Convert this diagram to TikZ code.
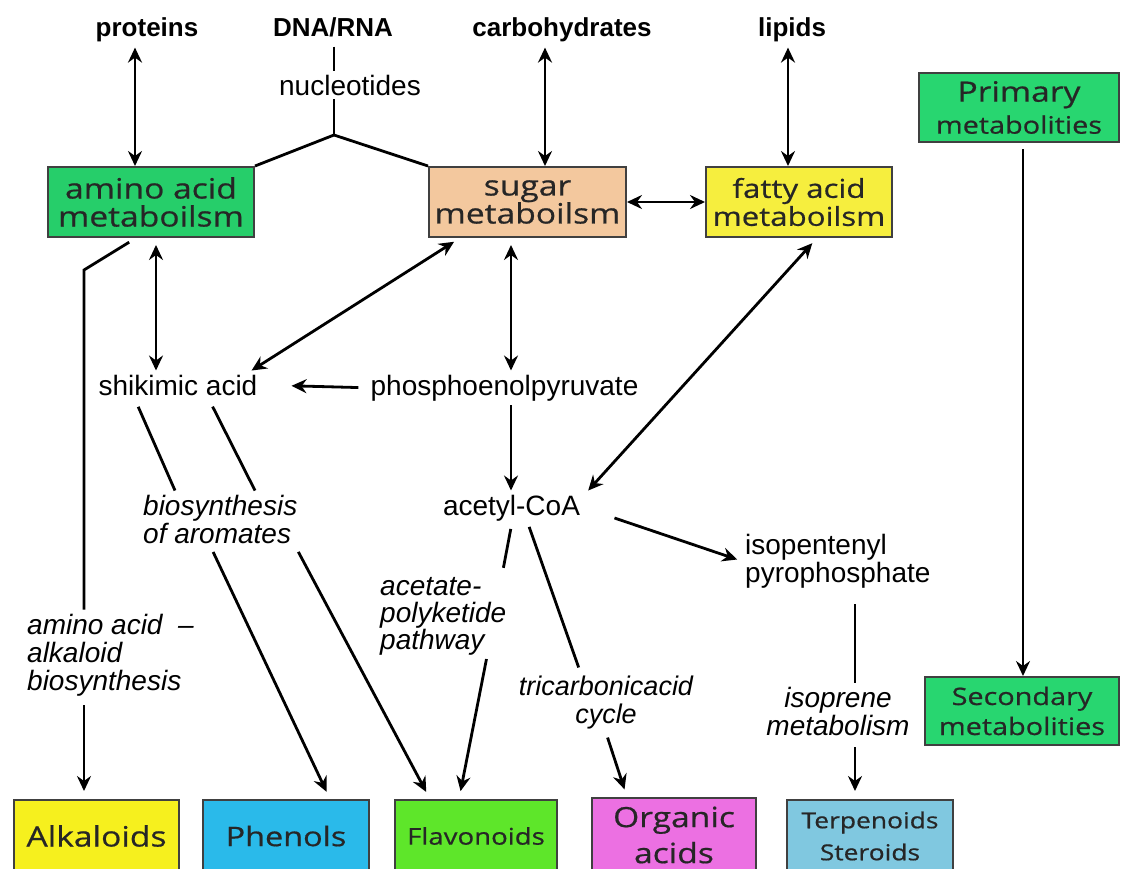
\documentclass[tikz,border=0pt]{standalone}
\usepackage{fontspec}
\setmainfont{Liberation Sans}
\newfontfamily\boxfont[FakeStretch=1.2, FakeBold=0.6]{Open Sans}
\usepackage{xcolor}
\usepackage{tikz}
\usetikzlibrary{arrows.meta, positioning, calc}

\definecolor{aminogreen}{RGB}{38,206,106}
\definecolor{primgreen}{RGB}{40,214,112}
\definecolor{sugarpeach}{RGB}{243,200,158}
\definecolor{fattyyellow}{RGB}{246,238,62}
\definecolor{alkyellow}{RGB}{246,240,30}
\definecolor{phencyan}{RGB}{42,186,234}
\definecolor{flavgreen}{RGB}{94,230,42}
\definecolor{orgpink}{RGB}{236,112,226}
\definecolor{terpblue}{RGB}{128,200,224}

\begin{document}
\begin{tikzpicture}[
    x=1pt, y=-1pt,
    lbl/.style={inner sep=4pt, align=center, text=black, font=\fontsize{28}{28}\selectfont},
    toplbl/.style={lbl, font=\bfseries\fontsize{26}{28}\selectfont},
    route/.style={lbl, align=left, font=\itshape\fontsize{28}{28}\selectfont},
    box/.style={draw=black!75, line width=2pt, inner sep=0pt, align=center, text=black!85, font=\boxfont\fontsize{28}{28}\selectfont},
    arrow/.style={-{Stealth[length=15pt, width=14pt, inset=5pt]}, line width=2.8pt},
    dbl/.style={{Stealth[length=15pt, width=14pt, inset=5pt]}-{Stealth[length=15pt, width=14pt, inset=5pt]}, line width=2.8pt},
    link/.style={line width=2.8pt}
]

\clip (0,0) rectangle (1121,868);
\fill[white] (0,0) rectangle (1121,868);

% Row 1: precursors
\node[toplbl, anchor=base] (proteins) at (147,36) {proteins};
\node[toplbl, anchor=base] (dna) at (333,36) {DNA/RNA};
\node[toplbl, anchor=base] (carbs) at (562,36) {carbohydrates};
\node[toplbl, anchor=base] (lipids) at (792,36) {lipids};
\node[lbl, anchor=base] (nucleo) at (350,95) {nucleotides};

% Row 2: primary metabolism boxes
\node[box, fill=aminogreen, minimum width=206pt, minimum height=70pt] (amino) at (151,202) {amino acid\\metaboilsm};
\node[box, fill=sugarpeach, minimum width=197pt, minimum height=70pt] (sugar) at (527.5,202) {sugar\\metaboilsm};
\node[box, fill=fattyyellow, minimum width=186pt, minimum height=70pt, font=\boxfont\fontsize{26}{28}\selectfont] (fatty) at (799,202) {fatty acid\\metaboilsm};
\node[box, fill=primgreen, minimum width=200pt, minimum height=69pt] (primary) at (1019,107.5) {{\fontsize{28}{28}\selectfont Primary}\\[4pt]{\fontsize{24}{28}\selectfont metabolities}};
\node[box, fill=primgreen, minimum width=194pt, minimum height=68pt, font=\boxfont\fontsize{24}{30}\selectfont] (secondary) at (1022,711) {Secondary\\metabolities};

% Row 3: intermediates
\node[lbl, anchor=base] (shikimic) at (178,395) {shikimic acid};
\node[lbl, anchor=base] (pep) at (504.5,395) {phosphoenolpyruvate};
\node[lbl, anchor=base] (acetyl) at (511.5,515) {acetyl-CoA};
\node[lbl, anchor=base west, align=left] (ipp) at (741,582) {isopentenyl\\pyrophosphate};

% pathway labels (base = last line)
\node[route, anchor=base west] (aromat) at (139,543) {biosynthesis\\of aromates};
\node[route, anchor=base west] (alkpath) at (23,690) {amino acid\ \ \textendash\\alkaloid\\biosynthesis};
\node[route, anchor=base west, font=\itshape\fontsize{28}{27}\selectfont] (polyket) at (376,649) {acetate-\\polyketide\\pathway};
\node[route, anchor=base, align=center, font=\itshape\fontsize{27}{28}\selectfont] (tca) at (606,723) {tricarbonicacid\\cycle};
\node[route, anchor=base, align=center, font=\itshape\fontsize{28}{28}\selectfont] (isoprene) at (838,735) {isoprene\\metabolism};

% Row 4: secondary products
\node[box, fill=alkyellow, minimum width=165pt, minimum height=72pt] (alkaloids) at (96.5,836) {Alkaloids};
\node[box, fill=phencyan, minimum width=166pt, minimum height=72pt, font=\boxfont\fontsize{27}{28}\selectfont] (phenols) at (286,836) {Phenols};
\node[box, fill=flavgreen, minimum width=162pt, minimum height=72pt, font=\boxfont\fontsize{23}{28}\selectfont] (flavonoids) at (476,836) {Flavonoids};
\node[box, fill=orgpink, minimum width=164pt, minimum height=74pt, font=\boxfont\fontsize{28}{36}\selectfont] (organic) at (674,835) {Organic\\acids};
\node[box, fill=terpblue, minimum width=166pt, minimum height=72pt, font=\boxfont\fontsize{22}{32}\selectfont] (terpenes) at (870,836) {Terpenoids\\Steroids};

% columns of the straight connectors
\coordinate (protX) at (135,0);
\coordinate (carbX) at (545,0);
\coordinate (lipX) at (788,0);
\coordinate (dnaX) at (334,0);
\coordinate (branch) at (334,135);
\coordinate (metX) at (1023,0);
\coordinate (shikX) at (156,0);
\coordinate (pepX) at (511,0);
\coordinate (ippX) at (855,0);
\coordinate (alkbend) at (84,270);

% arrows, top part
\draw[dbl, shorten <=2pt] (proteins.south -| protX) -- (amino.north -| protX);
\draw[dbl, shorten <=2pt] (carbs.south -| carbX) -- (sugar.north -| carbX);
\draw[dbl, shorten <=2pt] (lipids.south -| lipX) -- (fatty.north -| lipX);
\draw[link, shorten <=6pt] (dna.south -| dnaX) -- (nucleo.north -| dnaX);
\draw[link] (nucleo.south -| dnaX) -- (branch);
\draw[link] (branch) -- (amino.north east);
\draw[link] (branch) -- (sugar.north west);
\draw[dbl] (sugar) -- (fatty);
\draw[arrow, line width=2.2pt, shorten <=6pt] (primary.south -| metX) -- (secondary.north -| metX);

% arrows, middle part
\draw[dbl, shorten <=7pt] (amino.south -| shikX) -- (shikimic.north -| shikX);
\draw[dbl, shorten <=7pt] ([xshift=32pt]sugar.south west) -- ([xshift=-10pt]shikimic.north east);
\draw[dbl, shorten <=7pt] (sugar.south -| pepX) -- (pep.north -| pepX);
\draw[arrow, shorten <=8pt, shorten >=30pt] (pep.west) -- (shikimic.east);
\draw[arrow] (pep.south -| pepX) -- (acetyl.north -| pepX);
\draw[dbl, shorten <=7pt] ([xshift=18pt]fatty.south) -- ([xshift=4pt]acetyl.north east);
\draw[arrow, shorten <=32pt, shorten >=4pt] (acetyl.east) -- (ipp.west);

% pathways to secondary products
\draw[link, shorten <=8pt] ([xshift=-15pt]amino.south) -- (alkbend) -- (alkpath.north -| alkbend);
\draw[arrow, shorten <=5pt, shorten >=8pt] (alkpath.south -| alkbend) -- (alkaloids.north -| alkbend);
\draw[link, shorten <=8pt] ([xshift=-43pt]shikimic.south) -- ([xshift=36pt]aromat.north west);
\draw[link, shorten <=8pt] ([xshift=31pt]shikimic.south) -- ([xshift=116pt]aromat.north west);
\draw[arrow, shorten <=5pt, shorten >=8pt] ([xshift=72pt]aromat.south west) -- ([xshift=44pt]phenols.north);
\draw[arrow, shorten <=5pt, shorten >=8pt] ([xshift=157pt]aromat.south west) -- ([xshift=-46pt]flavonoids.north);
\draw[link, shorten <=4pt, shorten >=5pt] (acetyl.south) -- ([xshift=-8pt]polyket.north east);
\draw[arrow, shorten >=8pt] ([xshift=-24pt]polyket.south east) -- ([xshift=-17pt]flavonoids.north);
\draw[link, shorten <=2pt, shorten >=4pt] ([xshift=17pt]acetyl.south) -- ([xshift=-26pt]tca.north);
\draw[arrow, shorten <=5pt, shorten >=8pt] (tca.south) -- ([xshift=-47pt]organic.north);
\draw[link, shorten <=12pt] (ipp.south -| ippX) -- (isoprene.north -| ippX);
\draw[arrow, shorten <=8pt, shorten >=8pt] (isoprene.south -| ippX) -- (terpenes.north -| ippX);

\end{tikzpicture}
\end{document}
